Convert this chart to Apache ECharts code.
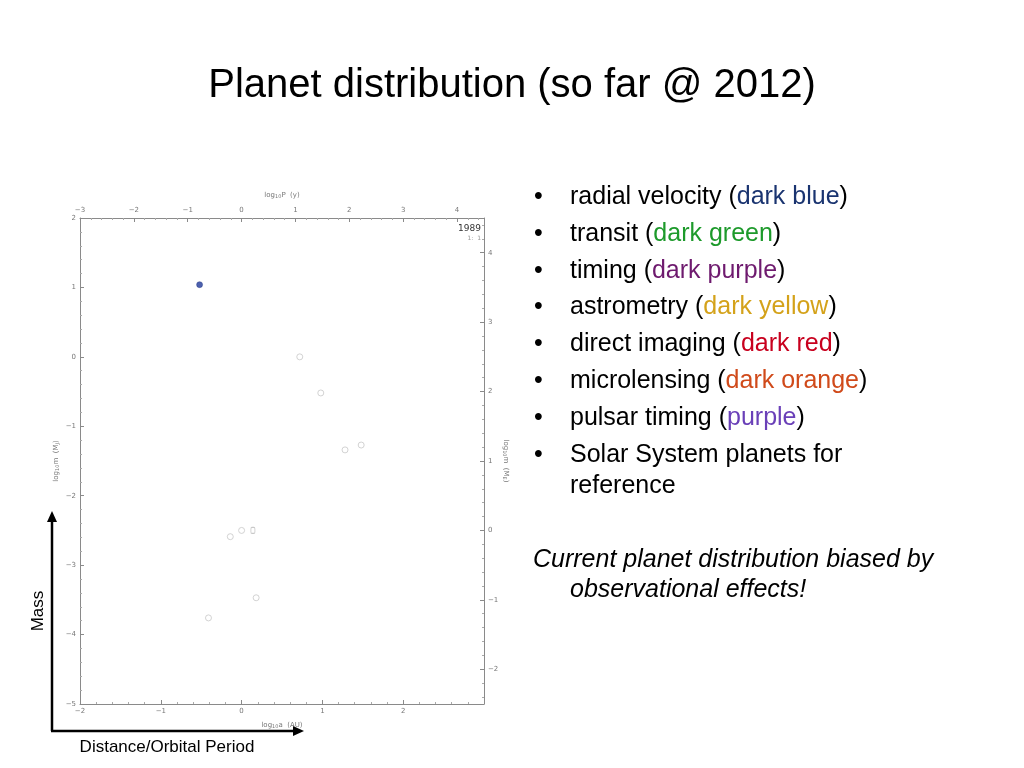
<!DOCTYPE html>
<html>
<head>
<meta charset="utf-8">
<style>html,body{margin:0;padding:0;background:#fff;}#c{width:1024px;height:768px;}</style>
<script src="https://cdn.jsdelivr.net/npm/echarts@6/dist/echarts.min.js"></script>
</head>
<body>
<div id="c"></div>
<script>
// log10 a (AU), log10 m (M_J)
const solarNames = ['Mercury','Venus','Earth','Mars','Jupiter','Saturn','Uranus','Neptune'];
const solarLogA = [-0.41, -0.14, 0.0, 0.18, 0.72, 0.98, 1.28, 1.48];
const solarLogM = [-3.76, -2.59, -2.50, -3.47, 0.0, -0.52, -1.34, -1.27];
const moonLogA = [0.14];
const moonLogM = [-2.50];
const rvLogA = [-0.52];
const rvLogM = [1.04];
const bottomTicks = [-2, -1, 0, 1, 2];
const topTicks = [-3, -2, -1, 0, 1, 2, 3, 4];
const leftTicks = [2, 1, 0, -1, -2, -3, -4, -5];
const rightTicks = [4, 3, 2, 1, 0, -1, -2];

const chart = echarts.init(document.getElementById('c'));
const FONT = 'Liberation Sans';
const nameRich = {
  n: { fontSize: 7, color: '#777', fontFamily: 'DejaVu Sans' },
  s: { fontSize: 5, color: '#777', fontFamily: 'DejaVu Sans', padding: [3, 0, 0, 0] }
};
const axisCommon = {
  type: 'value',
  axisLine: { show: true, onZero: false, lineStyle: { color: '#8a8a8a', width: 1 } },
  axisTick: { show: true, inside: true, length: 4, lineStyle: { color: '#8a8a8a' } },
  minorTick: { show: true, splitNumber: 5, length: 2, lineStyle: { color: '#aaa' } },
  splitLine: { show: false },
  axisLabel: { fontSize: 7, color: '#777', fontFamily: 'DejaVu Sans', margin: 4 },
  nameLocation: 'middle',
  nameTextStyle: { fontSize: 7, color: '#777', fontFamily: 'DejaVu Sans', rich: nameRich }
};
function fmt(list) { return v => (list.indexOf(Math.round(v * 100) / 100) >= 0 ? String(v).replace('-', '\u2212') : ''); }

const FS = 25;
const rich = {
  k: { fill: '#000', fontSize: FS, fontFamily: FONT },
  b: { fill: '#1a3470', fontSize: FS, fontFamily: FONT },
  g: { fill: '#1d9a2b', fontSize: FS, fontFamily: FONT },
  p: { fill: '#6e1a6e', fontSize: FS, fontFamily: FONT },
  y: { fill: '#d4a21a', fontSize: FS, fontFamily: FONT },
  r: { fill: '#c8001e', fontSize: FS, fontFamily: FONT },
  o: { fill: '#d04a1a', fontSize: FS, fontFamily: FONT },
  u: { fill: '#6a40b8', fontSize: FS, fontFamily: FONT }
};
const bullets = [
  ['{k|radial velocity (}{b|dark blue}{k|)}', 197],
  ['{k|transit (}{g|dark green}{k|)}', 234],
  ['{k|timing (}{p|dark purple}{k|)}', 271],
  ['{k|astrometry (}{y|dark yellow}{k|)}', 307],
  ['{k|direct imaging (}{r|dark red}{k|)}', 344],
  ['{k|microlensing (}{o|dark orange}{k|)}', 381],
  ['{k|pulsar timing (}{u|purple}{k|)}', 418],
  ['{k|Solar System planets for}', 455]
];
const graphics = [];
bullets.forEach(b => {
  graphics.push({ type: 'text', x: 534, y: b[1], style: { text: '\u2022', fontSize: FS, fontFamily: FONT, fill: '#000', verticalAlign: 'middle' } });
  graphics.push({ type: 'text', x: 570, y: b[1], style: { text: b[0], rich: rich, fontSize: FS, fontFamily: FONT, fill: '#000', verticalAlign: 'middle' } });
});
graphics.push({ type: 'text', x: 570, y: 486, style: { text: 'reference', fontSize: FS, fontFamily: FONT, fill: '#000', verticalAlign: 'middle' } });
graphics.push({ type: 'text', x: 533, y: 560, style: { text: 'Current planet distribution biased by', fontSize: FS, fontStyle: 'italic', fontFamily: FONT, fill: '#000', verticalAlign: 'middle' } });
graphics.push({ type: 'text', x: 570, y: 590, style: { text: 'observational effects!', fontSize: FS, fontStyle: 'italic', fontFamily: FONT, fill: '#000', verticalAlign: 'middle' } });
// arrows
graphics.push({ type: 'polyline', shape: { points: [[52, 731], [52, 520]] }, style: { stroke: '#000', lineWidth: 2.5 } });
graphics.push({ type: 'polygon', shape: { points: [[47, 522], [57, 522], [52, 511]] }, style: { fill: '#000' } });
graphics.push({ type: 'polyline', shape: { points: [[51, 731], [296, 731]] }, style: { stroke: '#000', lineWidth: 2.5 } });
graphics.push({ type: 'polygon', shape: { points: [[293, 726], [293, 736], [304, 731]] }, style: { fill: '#000' } });
graphics.push({ type: 'text', x: 38, y: 611, rotation: Math.PI / 2, style: { text: 'Mass', fontSize: 17, fontFamily: FONT, fill: '#000', align: 'center', verticalAlign: 'middle' } });
graphics.push({ type: 'text', x: 167, y: 747, style: { text: 'Distance/Orbital Period', fontSize: 17, fontFamily: FONT, fill: '#000', align: 'center', verticalAlign: 'middle' } });
graphics.push({ type: 'text', x: 481, y: 229, style: { text: '1989', fontSize: 9, fontFamily: 'DejaVu Sans', fill: '#333', align: 'right', verticalAlign: 'middle' } });
graphics.push({ type: 'text', x: 481, y: 238, style: { text: '1:  1', fontSize: 6, fontFamily: 'DejaVu Sans', fill: '#999', align: 'right', verticalAlign: 'middle' } });

chart.setOption({
  animation: false,
  backgroundColor: '#fff',
  title: {
    text: 'Planet distribution (so far @ 2012)',
    left: 'center', top: 61,
    textStyle: { fontSize: 40, fontWeight: 'normal', color: '#000', fontFamily: FONT }
  },
  grid: { left: 80, top: 218, width: 404, height: 486, containLabel: false },
  xAxis: [
    Object.assign({}, axisCommon, { position: 'bottom', min: -2, max: 3, interval: 1,
      name: '{n|log}{s|10}{n|a  (AU)}', nameGap: 17,
      axisLabel: Object.assign({}, axisCommon.axisLabel, { formatter: fmt(bottomTicks) }) }),
    Object.assign({}, axisCommon, { position: 'top', min: -3, max: 4.5, interval: 1,
      name: '{n|log}{s|10}{n|P  (y)}', nameGap: 19,
      axisLabel: Object.assign({}, axisCommon.axisLabel, { formatter: fmt(topTicks) }) })
  ],
  yAxis: [
    Object.assign({}, axisCommon, { position: 'left', min: -5, max: 2, interval: 1,
      name: '{n|log}{s|10}{n|m  (M}{s|J}{n|)}', nameGap: 20, nameRotate: 90,
      axisLabel: Object.assign({}, axisCommon.axisLabel, { formatter: fmt(leftTicks) }) }),
    Object.assign({}, axisCommon, { position: 'right', min: -2.5, max: 4.5, splitNumber: 7,
      name: '{n|log}{s|10}{n|m  (M}{s|E}{n|)}', nameGap: 18, nameRotate: -90,
      axisLabel: Object.assign({}, axisCommon.axisLabel, { formatter: fmt(rightTicks) }) })
  ],
  series: [
    { type: 'scatter', name: 'Solar System', xAxisIndex: 0, yAxisIndex: 0, symbol: 'circle', symbolSize: 6,
      itemStyle: { color: 'rgba(255,255,255,0)', borderColor: '#c8c8c8', borderWidth: 1 },
      data: solarLogA.map((a, i) => [a, solarLogM[i]]) },
    { type: 'scatter', name: 'Moon', xAxisIndex: 0, yAxisIndex: 0, symbol: 'roundRect', symbolSize: [4, 6],
      itemStyle: { color: 'rgba(255,255,255,0)', borderColor: '#bbb', borderWidth: 1 },
      data: moonLogA.map((a, i) => [a, moonLogM[i]]) },
    { type: 'scatter', name: 'radial velocity', xAxisIndex: 0, yAxisIndex: 0, symbol: 'circle', symbolSize: 6,
      itemStyle: { color: '#22399a', borderColor: '#1a2f80', borderWidth: 0.5 },
      data: rvLogA.map((a, i) => [a, rvLogM[i]]) }
  ],
  graphic: graphics
});
</script>
</body>
</html>
